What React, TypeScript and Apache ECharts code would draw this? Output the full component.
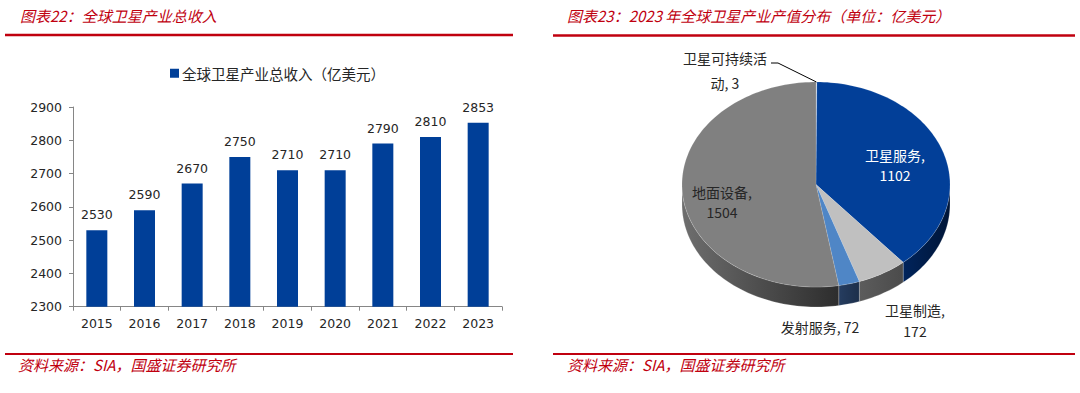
import React, { useEffect, useRef } from "react";
import * as echarts from "echarts";

// ---------- data ----------
const YEARS = ["2015", "2016", "2017", "2018", "2019", "2020", "2021", "2022", "2023"];
const REVENUE = [2530, 2590, 2670, 2750, 2710, 2710, 2790, 2810, 2853];
const BAR_SERIES_NAME = "全球卫星产业总收入（亿美元）";
const Y_MIN = 2300;
const Y_MAX = 2900;
const Y_STEP = 100;

const PIE_NAMES = ["卫星可持续活动", "卫星服务", "卫星制造", "发射服务", "地面设备"];
const PIE_VALUES = [3, 1102, 172, 72, 1504];

const LEFT_TITLE = "图表22：全球卫星产业总收入";
const RIGHT_TITLE = "图表23：2023 年全球卫星产业产值分布（单位：亿美元）";
const SOURCE_TEXT = "资料来源：SIA，国盛证券研究所";

// ---------- style ----------
const RED = "#c0000f";
const BAR_BLUE = "#003f98";
const TEXT_DARK = "#262626";
const NUM_FONT = "'DejaVu Sans', 'Noto Sans CJK SC', sans-serif";
const CJK_FONT = "'Noto Sans CJK SC', sans-serif";

const PIE_GEOM = { cx: 816, cy: 184.5, rx: 134, ry: 102.5, depth: 20 };
const PIE_TOP_COLORS = ["#dce6f2", "#023f98", "#c0c0c0", "#4f86c6", "#808080"];
const PIE_SIDE_COLORS: string[][] = [
  ["#7f8a99", "#6a7480"],
  ["#00245c", "#001537"],
  ["#5c5c5c", "#4b4b4b"],
  ["#263d60", "#1c2f4b"],
  ["#6e6e6e", "#2d2d2d"],
];
// label layout: offsets from pie center (px), style only
const PIE_LABEL_LAYOUT = [
  { dx: -91, dy: -114.5, lh: 25, color: TEXT_DARK, mode: "wrap", wrapAt: 6, leader: true },
  { dx: 79, dy: -19.5, lh: 20, color: "#ffffff", mode: "two" },
  { dx: 99, dy: 135.5, lh: 21, color: TEXT_DARK, mode: "two" },
  { dx: 4, dy: 142.5, lh: 20, color: TEXT_DARK, mode: "one" },
  { dx: -94, dy: 17.5, lh: 20, color: TEXT_DARK, mode: "two" },
];

function ellPoint(theta: number, dy = 0): number[] {
  const { cx, cy, rx, ry } = PIE_GEOM;
  return [cx + rx * Math.sin(theta), cy - ry * Math.cos(theta) + dy];
}

function arcPoints(a0: number, a1: number, dy = 0): number[][] {
  const pts: number[][] = [];
  const n = Math.max(2, Math.ceil(((a1 - a0) / (Math.PI * 2)) * 240));
  for (let k = 0; k <= n; k++) {
    pts.push(ellPoint(a0 + ((a1 - a0) * k) / n, dy));
  }
  return pts;
}

export default function App() {
  const ref = useRef<HTMLDivElement>(null);

  useEffect(() => {
    if (!ref.current) return;
    const chart = echarts.init(ref.current, undefined, { renderer: "svg" });
    const total = PIE_VALUES.reduce((a, b) => a + b, 0);
    const starts: number[] = [];
    let acc = 0;
    PIE_VALUES.forEach((v) => {
      starts.push(acc);
      acc += v;
    });

    const renderPie = (params: any, api: any) => {
      const i = params.dataIndex;
      const v = api.value(0);
      const a0 = (starts[i] / total) * Math.PI * 2;
      const a1 = ((starts[i] + v) / total) * Math.PI * 2;
      const children: any[] = [];
      // side (front half only: PI/2 .. 3PI/2)
      const s0 = Math.max(a0, Math.PI / 2);
      const s1 = Math.min(a1, (Math.PI * 3) / 2);
      if (s1 > s0) {
        const top = arcPoints(s0, s1, 0);
        const bottom = arcPoints(s0, s1, PIE_GEOM.depth).reverse();
        children.push({
          type: "polygon",
          shape: { points: top.concat(bottom) },
          style: {
            fill: new echarts.graphic.LinearGradient(0, 0, 1, 0, [
              { offset: 0, color: PIE_SIDE_COLORS[i][0] },
              { offset: 1, color: PIE_SIDE_COLORS[i][1] },
            ]),
            stroke: "rgba(255,255,255,0.35)",
            lineWidth: 0.6,
          },
        });
      }
      // top face
      const topPts = [[PIE_GEOM.cx, PIE_GEOM.cy]].concat(arcPoints(a0, a1, 0));
      children.push({
        type: "polygon",
        shape: { points: topPts },
        style: { fill: PIE_TOP_COLORS[i], stroke: "rgba(255,255,255,0.25)", lineWidth: 0.5 },
      });
      // label
      const lay: any = PIE_LABEL_LAYOUT[i];
      const name = PIE_NAMES[i];
      let text = "";
      if (lay.mode === "two") text = `${name},\n${v}`;
      else if (lay.mode === "one") text = `${name}, ${v}`;
      else text = `${name.slice(0, lay.wrapAt)}\n${name.slice(lay.wrapAt)}, ${v}`;
      const lx = PIE_GEOM.cx + lay.dx;
      const ly = PIE_GEOM.cy + lay.dy;
      if (lay.leader) {
        const anchor = ellPoint((a0 + a1) / 2, 0);
        children.push({
          type: "polyline",
          z2: 20,
          shape: { points: [[lx + 46, ly - 7], [lx + 53, ly - 7], anchor] },
          style: { stroke: "#000000", lineWidth: 1, fill: null },
        });
      }
      children.push({
        type: "text",
        z2: 30,
        style: {
          text,
          x: lx,
          y: ly,
          align: "center",
          verticalAlign: "middle",
          lineHeight: lay.lh,
          fill: lay.color,
          fontSize: 14,
          fontFamily: CJK_FONT,
        },
      });
      return { type: "group", children };
    };

    const option: any = {
      animation: false,
      backgroundColor: "#ffffff",
      legend: {
        data: [BAR_SERIES_NAME],
        left: 165,
        top: 61,
        icon: "rect",
        itemWidth: 9,
        itemHeight: 9,
        selectedMode: false,
        textStyle: { color: TEXT_DARK, fontSize: 14.5, fontFamily: CJK_FONT, padding: [0, 0, 0, -2] },
      },
      grid: { left: 73, right: 578, top: 107, bottom: 86.3 },
      xAxis: {
        type: "category",
        data: YEARS,
        axisLine: { lineStyle: { color: "#868686", width: 1 } },
        axisTick: { show: true, length: 4, lineStyle: { color: "#868686" } },
        axisLabel: { color: TEXT_DARK, fontSize: 12.5, fontFamily: NUM_FONT, margin: 11 },
      },
      yAxis: {
        type: "value",
        min: Y_MIN,
        max: Y_MAX,
        interval: Y_STEP,
        axisLine: { show: true, lineStyle: { color: "#868686", width: 1 } },
        axisTick: { show: true, length: 4, lineStyle: { color: "#868686" } },
        splitLine: { show: false },
        axisLabel: {
          color: TEXT_DARK,
          fontSize: 12.5,
          fontFamily: NUM_FONT,
          margin: 11,
          formatter: (val: number) => String(val),
        },
      },
      series: [
        {
          name: BAR_SERIES_NAME,
          type: "bar",
          data: REVENUE,
          barWidth: 21,
          itemStyle: { color: BAR_BLUE },
          label: {
            show: true,
            position: "top",
            distance: 9,
            color: TEXT_DARK,
            fontSize: 12.5,
            fontFamily: NUM_FONT,
          },
        },
        {
          type: "custom",
          coordinateSystem: "none",
          data: PIE_VALUES.map((v, i) => ({ value: v, name: PIE_NAMES[i] })),
          renderItem: renderPie,
        },
      ],
      graphic: [
        {
          type: "text",
          left: 20,
          top: 8,
          style: { text: LEFT_TITLE, fill: RED, fontSize: 15, fontStyle: "italic", fontFamily: CJK_FONT },
        },
        {
          type: "text",
          left: 567,
          top: 8,
          style: { text: RIGHT_TITLE, fill: RED, fontSize: 15, fontStyle: "italic", fontFamily: CJK_FONT },
        },
        { type: "line", shape: { x1: 5, y1: 35, x2: 513, y2: 35 }, style: { stroke: RED, lineWidth: 2.5 } },
        { type: "line", shape: { x1: 553, y1: 35.5, x2: 1075, y2: 35.5 }, style: { stroke: RED, lineWidth: 2.5 } },
        { type: "line", shape: { x1: 5, y1: 354, x2: 513, y2: 354 }, style: { stroke: RED, lineWidth: 2 } },
        { type: "line", shape: { x1: 553, y1: 354, x2: 1075, y2: 354 }, style: { stroke: RED, lineWidth: 2 } },
        {
          type: "text",
          left: 18,
          top: 357,
          style: { text: SOURCE_TEXT, fill: RED, fontSize: 15, fontStyle: "italic", fontFamily: CJK_FONT },
        },
        {
          type: "text",
          left: 567,
          top: 357,
          style: { text: SOURCE_TEXT, fill: RED, fontSize: 15, fontStyle: "italic", fontFamily: CJK_FONT },
        },
      ],
    };
    chart.setOption(option);
    return () => chart.dispose();
  }, []);

  return (
    <div
      ref={ref}
      style={{ position: "absolute", left: 0, top: 0, width: 1080, height: 393, background: "#ffffff" }}
    />
  );
}
